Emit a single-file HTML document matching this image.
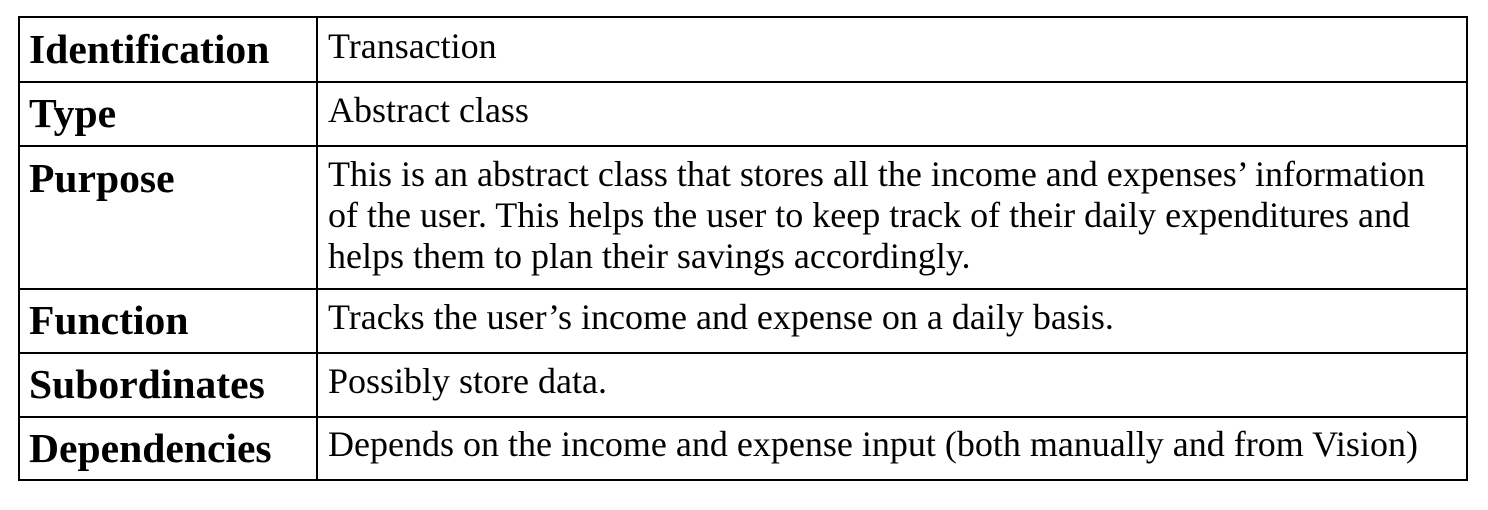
<!DOCTYPE html>
<html><head><meta charset="utf-8"><style>
body{margin:0;width:1488px;height:510px;background:#fff;position:relative;overflow:hidden;font-family:"Liberation Serif",serif;color:#000}
.h{position:absolute;left:18px;width:1450px;height:2px;background:#000}
.v{position:absolute;top:16px;width:2px;height:465px;background:#000}
.l{position:absolute;left:29px;font-size:41.6px;line-height:41px;font-weight:bold;white-space:nowrap}
.t{position:absolute;left:328px;font-size:36px;line-height:41px;white-space:nowrap}
</style></head><body>
<div>
<div class="h" style="top:16px"></div>
<div class="h" style="top:81px"></div>
<div class="h" style="top:145px"></div>
<div class="h" style="top:288px"></div>
<div class="h" style="top:352px"></div>
<div class="h" style="top:416px"></div>
<div class="h" style="top:479px"></div>
<div class="v" style="left:18px"></div>
<div class="v" style="left:316px"></div>
<div class="v" style="left:1466px"></div>

<div class="l" style="top:29px">Identification</div>
<div class="t" style="top:26px">Transaction</div>
<div class="l" style="top:93px">Type</div>
<div class="t" style="top:90px">Abstract class</div>
<div class="l" style="top:158px">Purpose</div>
<div class="t" style="top:154px">This is an abstract class that stores all the income and expenses’ information<br>of the user. This helps the user to keep track of their daily expenditures and<br>helps them to plan their savings accordingly.</div>
<div class="l" style="top:300px">Function</div>
<div class="t" style="top:297px">Tracks the user’s income and expense on a daily basis.</div>
<div class="l" style="top:364px">Subordinates</div>
<div class="t" style="top:361px">Possibly store data.</div>
<div class="l" style="top:428px">Dependencies</div>
<div class="t" style="top:424px">Depends on the income and expense input (both manually and from Vision)</div>
</div>
</body></html>
